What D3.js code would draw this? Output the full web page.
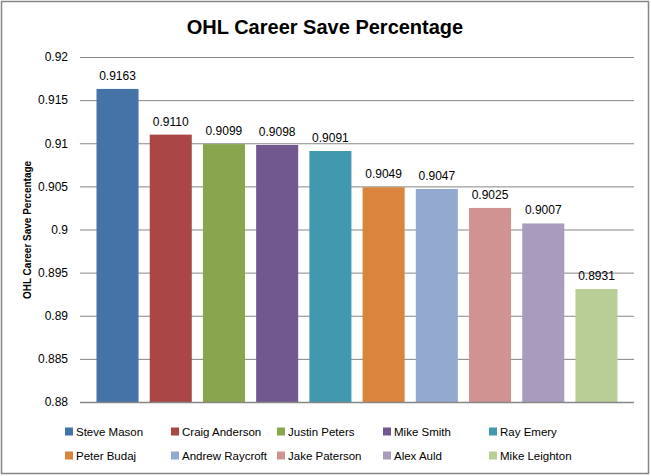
<!DOCTYPE html>
<html><head><meta charset="utf-8">
<script src="https://cdn.jsdelivr.net/npm/d3@7"></script>
<style>body{margin:0;background:#fff}svg text{font-family:"Liberation Sans",Arial,sans-serif}</style>
</head><body>
<svg id="c" width="651" height="476"></svg>
<script>
const players = ["Steve Mason","Craig Anderson","Justin Peters","Mike Smith","Ray Emery","Peter Budaj","Andrew Raycroft","Jake Paterson","Alex Auld","Mike Leighton"];
const savePct = [0.9163,0.9110,0.9099,0.9098,0.9091,0.9049,0.9047,0.9025,0.9007,0.8931];
const colors = ["#4572A7","#AA4643","#89A54E","#71588F","#4198AF","#DB843D","#93A9CF","#D19392","#A99BBD","#B9CD96"];
const yTicks = [0.88,0.885,0.89,0.895,0.9,0.905,0.91,0.915,0.92];
const yTickLabels = ["0.88","0.885","0.89","0.895","0.9","0.905","0.91","0.915","0.92"];
const titleText = "OHL Career Save Percentage";
const yTitle = "OHL Career Save  Percentage";

const svg = d3.select("#c");
svg.append("rect").attr("x",1.5).attr("y",1.5).attr("width",647).attr("height",472).attr("fill","#fff").attr("stroke","#868686").attr("stroke-width",1.5);

const L=80, R=634, T=57, B=402;
const x = d3.scaleBand().domain(players).range([L,R]).paddingInner(0.21).paddingOuter(0.31);
const y = d3.scaleLinear().domain([0.88,0.92]).range([B,T]);

const ax = svg.append("g").attr("transform",`translate(${L},0)`)
  .call(d3.axisLeft(y).tickValues(yTicks).tickFormat((d,i)=>yTickLabels[i]).tickSize(-(R-L)).tickPadding(12));
ax.select(".domain").remove();
ax.selectAll(".tick line").attr("stroke","#868686").attr("stroke-width",1).attr("x1",0);
ax.selectAll(".tick text").attr("font-size","12px").attr("fill","#000").attr("font-family","Liberation Sans, Arial, sans-serif");

svg.selectAll("rect.bar").data(savePct).join("rect").attr("class","bar")
  .attr("x",(d,i)=>x(players[i])).attr("width",x.bandwidth())
  .attr("y",d=>y(d)).attr("height",d=>B-y(d)).attr("fill",(d,i)=>colors[i]);

svg.append("line").attr("x1",L).attr("x2",R).attr("y1",B+0.5).attr("y2",B+0.5).attr("stroke","#868686").attr("stroke-width",1.5);

svg.selectAll("text.val").data(savePct).join("text").attr("class","val")
  .attr("x",(d,i)=>x(players[i])+x.bandwidth()/2).attr("y",d=>y(d)-9)
  .attr("text-anchor","middle").attr("font-size","12px").text(d=>d.toFixed(4));

svg.append("text").attr("x",325).attr("y",34).attr("text-anchor","middle")
  .attr("font-size","20px").attr("font-weight","bold").text(titleText);

svg.append("text").attr("transform","translate(31,230) rotate(-90)").attr("text-anchor","middle")
  .attr("font-size","10px").attr("font-weight","bold").text(yTitle);

const lg = svg.append("g");
players.forEach((p,i)=>{
  const col=i%5, row=Math.floor(i/5);
  const gx = 65 + col*106, gy = 432 + row*24;
  lg.append("rect").attr("x",gx).attr("y",gy-4.5).attr("width",8).attr("height",8).attr("fill",colors[i]);
  lg.append("text").attr("x",gx+11).attr("y",gy+4).attr("font-size","11.5px").text(p);
});
</script></body></html>
